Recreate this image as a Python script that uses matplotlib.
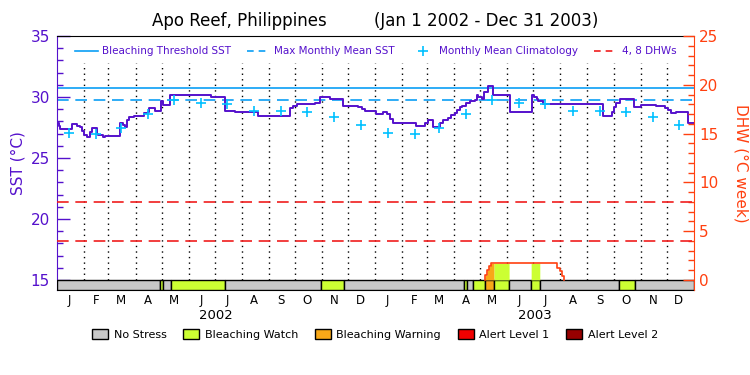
import numpy as np
import matplotlib
matplotlib.use("Agg")
import matplotlib.pyplot as plt
from matplotlib.lines import Line2D
from matplotlib.patches import Patch, Rectangle
import matplotlib.transforms as mtransforms

# ---- data (days since Jan 1 2002) ----
sst_day = [0, 2, 3.4, 16.8, 22.5, 26.4, 28.3, 31, 34, 37.8, 39.7, 45.5, 47.4, 53.1, 55,
           72, 76, 78, 80, 83, 88, 100, 104, 106, 112, 119, 121, 129, 154, 177, 186,
           193, 204, 231, 267, 271, 275, 296, 301, 313, 328, 345, 350, 353,
           366, 374, 378, 382, 385, 401, 412, 422, 425, 431, 439, 443, 448, 452, 456,
           459, 462, 464, 469, 473, 479, 481, 483, 487, 490, 494, 500, 519,
           544, 547, 550, 552, 557, 626, 636, 639, 641, 646, 662, 670, 687, 697,
           700, 704, 710, 723.5, 730]
sst_val = [27.9, 27.6, 27.4, 27.75, 27.6, 27.55, 27.2, 26.9, 26.75, 27.1, 27.45, 27.0, 26.85, 26.75, 26.8,
           27.9, 27.7, 27.55, 28.1, 28.4, 28.45, 28.7, 28.8, 29.07, 28.87, 29.7, 29.35, 30.15, 30.2, 30.0, 29.98,
           28.88, 28.8, 28.47, 29.07, 29.26, 29.4, 29.53, 29.97, 29.8, 29.28, 29.15, 29.0, 28.85,
           28.58, 28.75, 28.6, 28.2, 27.9, 27.88, 27.62, 27.84, 28.11, 27.57, 27.9, 28.1, 28.25, 28.52, 28.7,
           28.95, 29.15, 29.3, 29.52, 29.65, 29.75, 30.16, 29.98, 29.8, 30.43, 30.9, 30.16, 28.8,
           30.16, 30.0, 29.85, 29.65, 29.4, 28.47, 28.8, 29.2, 29.47, 29.81, 29.2, 29.34, 29.3, 29.1,
           28.9, 28.66, 28.8, 27.84, 27.84]

clim_val = [27.08, 26.95, 27.43, 28.6, 29.72, 29.48, 29.4, 28.85, 28.86, 28.73, 28.32, 27.7]
mmm = 29.75
threshold = 30.75

dhw_day = [0, 490.8, 493, 495, 497, 573.5, 577, 579, 581, 730]
dhw_val = [0, 0.5, 1.0, 1.4, 1.71, 1.2, 0.9, 0.45, 0, 0]

stress_start = [0, 118, 121.8, 130.3, 192.9, 302.2, 329.2, 466.8, 469.5, 476.4, 490.8, 501.1, 518.3, 543.6, 553.5, 644.4, 662.7]
stress_end = [118, 121.8, 130.3, 192.9, 302.2, 329.2, 466.8, 469.5, 476.4, 490.8, 501.1, 518.3, 543.6, 553.5, 644.4, 662.7, 730]
stress_level = [0, 1, 0, 1, 0, 1, 0, 1, 0, 1, 2, 1, 0, 1, 0, 1, 0]

stress_names = ['No Stress', 'Bleaching Watch', 'Bleaching Warning', 'Alert Level 1', 'Alert Level 2']
stress_colors = ['#c8c8c8', '#ccff33', '#f8a818', '#f00000', '#960000']

month_letters = ['J', 'F', 'M', 'A', 'M', 'J', 'J', 'A', 'S', 'O', 'N', 'D']
month_len = [31, 28, 31, 30, 31, 30, 31, 31, 30, 31, 30, 31]
years = ['2002', '2003']

purple = '#5511cc'
orange = '#ff4010'
blue = '#0a9ef5'
cyan = '#00c0ff'

month_start = np.concatenate([[0], np.cumsum(month_len * 2)])
month_mid = month_start[:-1] + 14

fig = plt.figure(figsize=(7.5, 3.75), dpi=100)
ax = fig.add_axes([0.076, 0.2267, 0.849, 0.6773])
ax2 = ax.twinx()

sst_lo = 15 - 10 / 12.2
ax.set_xlim(0, 730)
ax.set_ylim(sst_lo, 35)
ax2.set_ylim(-10 / 9.76, 25)

# month dividers
ax.vlines(month_start[1:-1], 15, 32.8, colors='black', linestyles=(0, (1, 3)), linewidth=1)

ax.axhline(threshold, color=blue, lw=1.2)
ax.axhline(mmm, color=blue, lw=1.2, dashes=(7, 4))
ax.step(sst_day, sst_val, where='post', color=purple, lw=1.4, zorder=3)
ax.plot(month_mid, clim_val * 2, '+', color=cyan, ms=7, mew=1.2, zorder=4)

# stress bar
for s, e, lv in zip(stress_start, stress_end, stress_level):
    ax.add_patch(Rectangle((s, sst_lo), e - s, 15 - sst_lo, facecolor=stress_colors[lv],
                           edgecolor='black', lw=1, zorder=5))

# DHW
ax2.axhline(4, color='#f01e1e', lw=1.2, dashes=(7, 4))
ax2.axhline(8, color='#f01e1e', lw=1.2, dashes=(7, 4))
dd = np.array(dhw_day)
dv = np.array(dhw_val)
for s, e, lv in zip(stress_start, stress_end, stress_level):
    if lv == 0:
        continue
    xs = np.linspace(s, e, 400)
    idx = np.searchsorted(dd, xs, side='right') - 1
    ax2.fill_between(xs, 0, dv[idx], color=stress_colors[lv], lw=0, step='post')
ax2.step([dhw_day[1]] + dhw_day[1:9], [0] + dhw_val[1:9], where='post', color=orange, lw=1.2)

# axes styling
ax.set_yticks([15, 20, 25, 30, 35])
ax.set_yticks(np.arange(16, 35), minor=True)
ax.tick_params(axis='y', which='major', direction='in', length=9.5, width=1, colors=purple, labelsize=11, pad=5)
ax.tick_params(axis='y', which='minor', direction='in', length=4.5, width=1, colors=purple)
ax2.set_yticks([0, 5, 10, 15, 20, 25])
ax2.set_yticks(np.arange(1, 25), minor=True)
ax2.tick_params(axis='y', which='major', direction='in', length=8, width=1, colors=orange, labelsize=11, pad=4)
ax2.tick_params(axis='y', which='minor', direction='in', length=4.5, width=1, colors=orange)

ax.set_xticks(month_mid)
ax.set_xticklabels(month_letters * 2, fontsize=8.5)
ax.tick_params(axis='x', length=0, pad=3)
trans = mtransforms.blended_transform_factory(ax.transData, ax.transAxes)
for i, y in enumerate(years):
    ax.text(182.5 + 365 * i, -0.1, y, transform=trans, ha='center', va='center', fontsize=9.5)

ax.spines['left'].set_color(purple)
ax.spines['right'].set_visible(False)
for sp in ['left', 'top', 'bottom']:
    ax2.spines[sp].set_visible(False)
ax2.spines['right'].set_color(orange)

ax.set_ylabel('SST (°C)', color=purple, fontsize=11, labelpad=4)
ax2.set_ylabel('DHW (°C week)', color=orange, fontsize=11, rotation=270, va='bottom', labelpad=11)
ax.set_title('Apo Reef, Philippines         (Jan 1 2002 - Dec 31 2003)', fontsize=12, pad=7)

handles = [Line2D([], [], color=blue, lw=1.2),
           Line2D([], [], color=blue, lw=1.2, dashes=(4, 3)),
           Line2D([], [], color=cyan, marker='+', ls='none', ms=7, mew=1.2),
           Line2D([], [], color='#f01e1e', lw=1.2, dashes=(4, 3))]
labels = ['Bleaching Threshold SST', 'Max Monthly Mean SST', 'Monthly Mean Climatology', '4, 8 DHWs']
ax2.legend(handles, labels, ncol=4, loc='upper center', bbox_to_anchor=(0.5, 1.0), frameon=False,
           fontsize=7.5, labelcolor=purple, handlelength=2.2, handletextpad=0.4, columnspacing=1.6,
           borderaxespad=0.6)

shandles = [Patch(facecolor=c, edgecolor='black', lw=1) for c in stress_colors]
fig.legend(shandles, stress_names, ncol=5, loc='center', bbox_to_anchor=(0.5, 0.107), frameon=False,
           fontsize=8, handlelength=1.45, handleheight=1.0, handletextpad=0.5, columnspacing=1.5)

fig.savefig('out.png', dpi=100)
